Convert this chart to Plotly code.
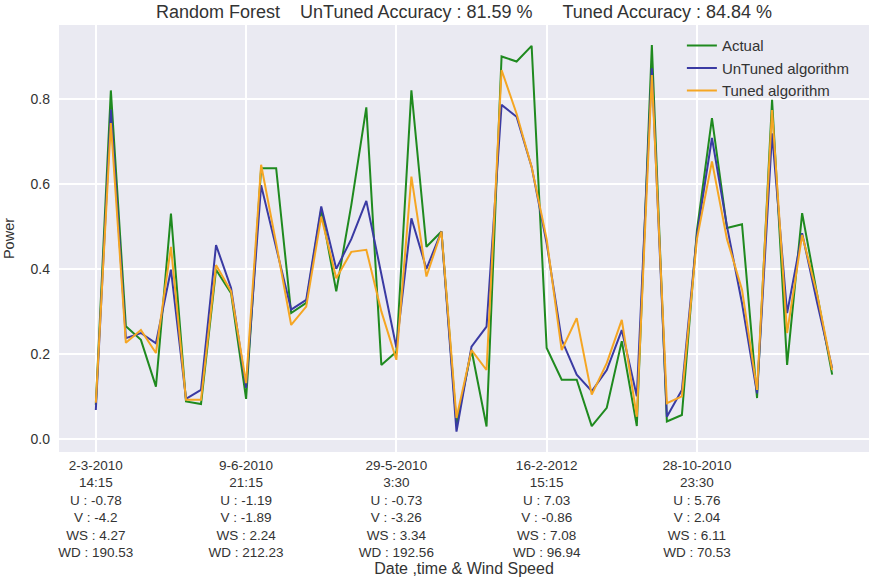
import plotly.graph_objects as go

# Power per sample: measured values and the two Random Forest predictions
actual = [0.08, 0.82, 0.265, 0.233, 0.123, 0.53, 0.088, 0.082, 0.398, 0.343,
          0.094, 0.637, 0.637, 0.296, 0.32, 0.54, 0.347, 0.55, 0.78, 0.174,
          0.205, 0.82, 0.452, 0.488, 0.035, 0.209, 0.029, 0.90, 0.888, 0.925,
          0.214, 0.139, 0.139, 0.03, 0.073, 0.23, 0.03, 0.927, 0.041, 0.056,
          0.49, 0.755, 0.496, 0.505, 0.096, 0.798, 0.174, 0.531, 0.34, 0.151]

untuned = [0.068, 0.775, 0.237, 0.249, 0.225, 0.398, 0.094, 0.115, 0.456, 0.355,
           0.12, 0.597, 0.45, 0.304, 0.327, 0.547, 0.40, 0.47, 0.56, 0.39,
           0.215, 0.519, 0.40, 0.488, 0.017, 0.217, 0.264, 0.786, 0.758, 0.64,
           0.46, 0.233, 0.151, 0.112, 0.162, 0.256, 0.10, 0.872, 0.052, 0.115,
           0.48, 0.708, 0.50, 0.319, 0.107, 0.719, 0.296, 0.484, 0.32, 0.166]

tuned = [0.085, 0.743, 0.226, 0.256, 0.202, 0.452, 0.092, 0.092, 0.409, 0.347,
         0.131, 0.645, 0.46, 0.268, 0.311, 0.523, 0.378, 0.44, 0.445, 0.30,
         0.186, 0.617, 0.382, 0.488, 0.049, 0.209, 0.162, 0.868, 0.765, 0.64,
         0.47, 0.209, 0.284, 0.104, 0.178, 0.28, 0.052, 0.856, 0.084, 0.10,
         0.47, 0.653, 0.47, 0.351, 0.115, 0.774, 0.249, 0.48, 0.34, 0.162]

# Tick positions and their multi-line descriptions (date, time, U, V, WS, WD)
tick_positions = [0, 10, 20, 30, 40]
tick_labels = [
    "2-3-2010<br>14:15<br>U : -0.78<br>V : -4.2<br>WS : 4.27<br>WD : 190.53",
    "9-6-2010<br>21:15<br>U : -1.19<br>V : -1.89<br>WS : 2.24<br>WD : 212.23",
    "29-5-2010<br>3:30<br>U : -0.73<br>V : -3.26<br>WS : 3.34<br>WD : 192.56",
    "16-2-2012<br>15:15<br>U : 7.03<br>V : -0.86<br>WS : 7.08<br>WD : 96.94",
    "28-10-2010<br>23:30<br>U : 5.76<br>V : 2.04<br>WS : 6.11<br>WD : 70.53",
]

x = list(range(len(actual)))

series = [
    ("Actual", actual, "#1f8a1f"),
    ("UnTuned algorithm", untuned, "#3a3aa3"),
    ("Tuned algorithm", tuned, "#f5a623"),
]

fig = go.Figure()
for name, values, color in series:
    fig.add_trace(go.Scatter(x=x, y=values, mode="lines", name=name,
                             line=dict(color=color, width=2)))

nb = "\u00a0"
title_text = ("Random Forest" + nb * 4 + "UnTuned Accuracy : 81.59 %"
              + nb * 6 + "Tuned Accuracy : 84.84 %")

text_color = "#333333"
fig.update_layout(
    width=869, height=583,
    margin=dict(l=59, r=0, t=25, b=131),
    paper_bgcolor="white",
    plot_bgcolor="#EAEAF2",
    font=dict(family="Liberation Sans, Arial, sans-serif", color=text_color, size=14),
    title=dict(text=title_text, x=0.5, xref="paper", xanchor="center",
               y=1 - 12 / 583, yref="container", yanchor="middle",
               font=dict(size=18, color=text_color)),
    showlegend=True,
    legend=dict(x=0.769, y=0.99, xanchor="left", yanchor="top",
                bgcolor="rgba(0,0,0,0)", borderwidth=0,
                font=dict(size=15, color=text_color), tracegroupgap=0),
    xaxis=dict(range=[-2.45, 51.45], tickmode="array",
               tickvals=tick_positions, ticktext=tick_labels,
               showgrid=True, gridcolor="white", gridwidth=1.5,
               zeroline=False, showline=False, ticks="",
               ticklabelstandoff=3,
               tickfont=dict(size=13.5, color=text_color),
               title=dict(text="Date ,time & Wind Speed", standoff=3,
                          font=dict(size=16, color=text_color))),
    yaxis=dict(range=[-0.031, 0.974], tickmode="array",
               tickvals=[0.0, 0.2, 0.4, 0.6, 0.8],
               ticktext=["0.0", "0.2", "0.4", "0.6", "0.8"],
               showgrid=True, gridcolor="white", gridwidth=1.5,
               zeroline=False, showline=False, ticks="",
               ticklabelstandoff=8,
               tickfont=dict(size=14, color=text_color),
               title=dict(text="Power", standoff=12,
                          font=dict(size=14.5, color=text_color))),
)

fig.write_html("out.html")
